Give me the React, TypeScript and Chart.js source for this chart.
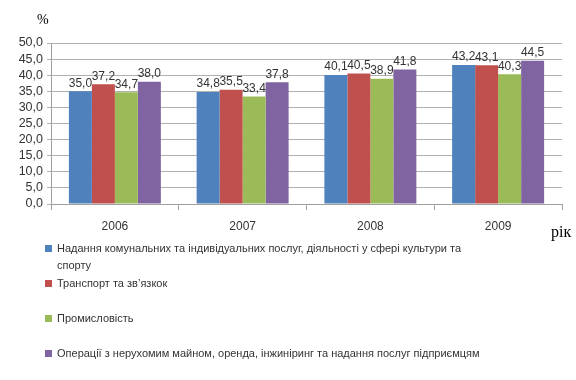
import React, { useEffect, useRef } from "react";
import { Chart, registerables } from "chart.js";
Chart.register(...registerables);

const years = ["2006", "2007", "2008", "2009"];
const seriesLabels = [
  "Надання комунальних та  індивідуальних послуг, діяльності у сфері культури та спорту",
  "Транспорт та зв’язкок",
  "Промисловість",
  "Операції з нерухомим майном, оренда, інжиніринг та надання послуг підприємцям",
];
const utilities = [35.0, 34.8, 40.1, 43.2];
const transport = [37.2, 35.5, 40.5, 43.1];
const industry = [34.7, 33.4, 38.9, 40.3];
const realEstate = [38.0, 37.8, 41.8, 44.5];
const seriesValues = [utilities, transport, industry, realEstate];
const colors = ["#4F81BD", "#C0504D", "#9BBB59", "#8064A2"];
const legendRowsY = [248, 283, 318, 353];

const fmt = (v: number) => v.toFixed(1).replace(".", ",");

const FONT = "'Liberation Sans', Arial, sans-serif";

export default function App() {
  const ref = useRef<HTMLCanvasElement>(null);
  useEffect(() => {
    const labelPlugin = {
      id: "valueLabels",
      afterDatasetsDraw(chart: any) {
        const ctx = chart.ctx;
        ctx.save();
        ctx.font = "12px " + FONT;
        ctx.fillStyle = "#333333";
        ctx.textAlign = "center";
        ctx.textBaseline = "bottom";
        chart.data.datasets.forEach((ds: any, i: number) => {
          const meta = chart.getDatasetMeta(i);
          meta.data.forEach((bar: any, j: number) => {
            ctx.fillText(fmt(ds.data[j]), bar.x, bar.y - 2);
          });
        });
        ctx.restore();
      },
    };
    const chart = new Chart(ref.current!, {
      type: "bar",
      data: {
        labels: years,
        datasets: seriesValues.map((d, i) => ({
          label: seriesLabels[i],
          data: d,
          backgroundColor: colors[i],
          borderWidth: 0,
          categoryPercentage: 0.72,
          barPercentage: 1,
        })),
      },
      options: {
        responsive: false,
        animation: false,
        layout: { padding: { left: 0, right: 14, top: 43, bottom: 0 } },
        plugins: { legend: { display: false }, tooltip: { enabled: false } },
        scales: {
          y: {
            min: 0,
            max: 50,
            ticks: {
              stepSize: 5,
              autoSkip: false,
              callback: (v: any) => fmt(Number(v)),
              color: "#333333",
              font: { family: FONT, size: 12.5 },
              padding: 4,
            },
            grid: { color: "#b0b0b0", tickLength: 4, drawTicks: true },
            border: { color: "#a0a0a0" },
            afterFit: (s: any) => { s.width = 51; },
          },
          x: {
            ticks: {
              color: "#333333",
              font: { family: FONT, size: 12 },
              padding: 9,
            },
            grid: { offset: true, drawOnChartArea: false, tickLength: 6, color: "#a0a0a0" },
            border: { color: "#a0a0a0" },
            afterFit: (s: any) => { s.height = 176; },
          },
        },
      },
      plugins: [labelPlugin],
    });
    return () => chart.destroy();
  }, []);
  return (
    <div style={{ position: "absolute", left: 0, top: 0, width: 576, height: 380, background: "#fff", overflow: "hidden" }}>
      <canvas ref={ref} width={576} height={380} style={{ position: "absolute", left: 0, top: 0 }} />
      <div style={{ position: "absolute", left: 37, top: 12, font: "14px 'Liberation Serif', serif", color: "#000" }}>%</div>
      <div style={{ position: "absolute", left: 551, top: 223, font: "16px 'Liberation Serif', serif", color: "#000" }}>рік</div>
      {seriesLabels.map((l, i) => (
        <div key={i} style={{ position: "absolute", left: 45, top: legendRowsY[i] - 8, display: "flex", alignItems: "flex-start", font: "11px " + FONT, color: "#333333", lineHeight: "17px" }}>
          <div style={{ width: 7, height: 7, background: colors[i], marginTop: 5, marginRight: 5, flex: "none" }} />
          <div style={i === 0 ? { width: 412 } : { whiteSpace: "nowrap" }}>{l}</div>
        </div>
      ))}
    </div>
  );
}
